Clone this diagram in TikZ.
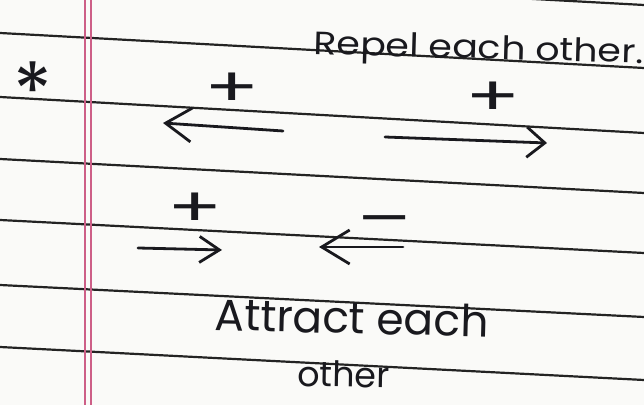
\documentclass[tikz,border=0pt]{standalone}
\usepackage{fontspec}
\setsansfont{Poppins}
\usepackage{xcolor}
\usetikzlibrary{positioning,arrows.meta}
\definecolor{paper}{RGB}{250,250,248}
\definecolor{rulegray}{RGB}{35,35,35}
\definecolor{marginred}{RGB}{205,95,135}
\definecolor{ink}{RGB}{25,25,30}
\tikzset{
	ruling/.style={rulegray,line width=1.1pt},
	marginline/.style={marginred,line width=0.7pt},
	inkline/.style={ink,line width=1.4pt,line cap=round},
	hand/.style={ink,inner sep=0pt,font=\sffamily\fontsize{19}{22}\selectfont},
	sign/.style={ink,inner sep=0pt,xscale=1.5,font=\sffamily\fontsize{27}{30}\selectfont}
}

\begin{document}
\begin{tikzpicture}[x=0.5pt,y=-0.5pt]
		
		\clip (0,0) rectangle (644,405);
		
		\fill[paper]
		(0,0) rectangle (644,405);
		
		\foreach \ya/\yb in {-30/5,33/68,97/133,159/193,220/253,285/317,347/380}
		\draw[ruling] (0,\ya) -- (644,\yb);
		
		\draw[marginline] (85,0) -- (85,405);
		\draw[marginline] (91,0) -- (91,405);
		
		\node[ink,inner sep=0pt,font=\sffamily\fontsize{40}{40}\selectfont]
		(star) at (33,91) {*};
		
		\node[hand,anchor=base west,rotate=-1.6,yscale=0.85]
		(repel) at (313,54) {Repel each other.};
		
		\node[sign] (plusA) at (232,90) {+};
		\node[sign] (plusB) at (493,99) {+};
		
		\coordinate (repAtail) at (283,131);
		\coordinate (repAtip) at (163,123);
		\coordinate (repBtail) at (385,137);
		\coordinate (repBtip) at (547,143);
		
		\draw[inkline,-{Straight Barb[length=13pt,width=17pt]}]
		(repAtail) -- (repAtip);
		\draw[inkline,-{Straight Barb[length=9pt,width=15pt]}]
		(repBtail) -- (repBtip);
		
		\node[sign] (plusC) at (195,210) {+};
		\node[sign,xscale=1.3] (minusD) at (387,227) {-};
		
		\coordinate (attCtail) at (138,248);
		\coordinate (attCtip) at (222,250);
		\coordinate (attDtail) at (403,247);
		\coordinate (attDtip) at (319,247);
		
		\draw[inkline,-{Straight Barb[length=10pt,width=13pt]}]
		(attCtail) -- (attCtip);
		\draw[inkline,-{Straight Barb[length=14pt,width=17pt]}]
		(attDtail) -- (attDtip);
		
		\node[hand,anchor=base west,rotate=-1.5,font=\sffamily\fontsize{22}{24}\selectfont]
		(attract) at (214,330) {Attract each};
		
		\node[hand,anchor=base west,rotate=-1,font=\sffamily\fontsize{17.5}{20}\selectfont]
		(other) at (297,386) {other};
		
	\end{tikzpicture}
\end{document}
